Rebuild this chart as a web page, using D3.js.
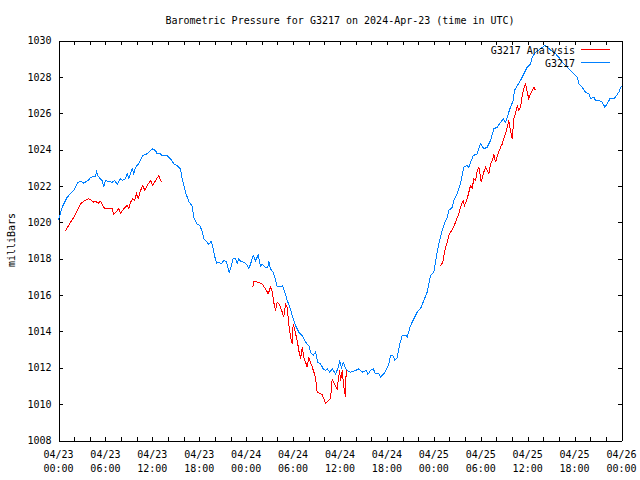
<!DOCTYPE html>
<html><head><meta charset="utf-8">
<script src="https://cdn.jsdelivr.net/npm/d3@7"></script>
<style>
body{margin:0;background:#fff}
svg text{font-family:"DejaVu Sans Mono","Liberation Mono",monospace;font-size:10px;fill:#000}
</style>
</head><body>
<svg id="chart" width="640" height="480"></svg>
<script>
const chartTitle = "Barometric Pressure for G3217 on 2024-Apr-23 (time in UTC)";
const yAxisLabel = "milliBars";
const startTime = "2024-04-23T00:00:00Z";
const endTime = "2024-04-26T00:00:00Z";
const yTickValues = [1008,1010,1012,1014,1016,1018,1020,1022,1024,1026,1028,1030];
const seriesNames = ["G3217 Analysis", "G3217"];

// G3217 observed (hours since start, mb)
const stationHours = [0,0.04,0.47,1.11,1.53,1.96,2.39,2.81,3.24,3.88,4.09,4.73,4.86,5.08,5.59,5.79,6.01,6.87,7.16,7.51,7.93,8.18,8.57,8.79,8.99,9.43,9.63,9.85,10.27,10.78,11.34,11.77,11.98,12.41,12.62,13.04,13.26,13.90,14.32,14.75,15.18,15.60,15.82,16.24,16.66,17.10,17.30,17.74,18.03,18.38,18.58,19.22,19.53,19.73,19.95,20.21,20.50,20.81,21.14,21.45,21.65,21.83,22.09,22.34,22.64,22.85,23.06,23.28,23.70,24.04,24.34,24.55,24.90,25.19,25.54,25.83,26.05,26.47,26.77,26.90,27.11,27.46,27.75,27.97,28.39,28.65,28.81,29.25,29.67,29.89,30.31,30.73,31.17,31.59,32.01,32.23,32.57,32.87,33.16,33.51,33.85,34.15,34.36,34.70,35.00,35.43,35.72,35.98,36.19,36.41,36.83,37.34,37.98,38.41,38.84,39.39,39.56,39.90,40.25,40.54,40.96,41.18,41.69,42.04,42.24,42.46,42.75,43.01,43.32,43.52,43.65,43.96,44.38,44.60,45.02,45.44,45.87,46.39,46.72,47.15,47.36,47.57,48.00,48.21,48.43,48.64,48.85,49.07,49.40,49.71,49.91,50.35,50.55,50.99,51.41,51.83,52.27,52.47,53.03,53.55,53.97,54.39,54.82,55.25,55.67,56.10,56.53,56.87,57.17,57.38,57.72,58.15,58.32,58.67,59.09,59.51,59.94,60.37,60.58,61.00,61.64,62.19,62.58,63.01,63.56,63.98,64.42,64.84,65.48,65.90,66.34,66.54,66.98,67.40,67.82,68.04,68.47,68.68,69.11,69.53,69.87,70.17,70.51,71.02,71.37,71.66,72.0];
const stationValues = [1020.1,1020.2,1020.83,1021.38,1021.57,1021.75,1022.15,1022.26,1022.15,1022.34,1022.48,1022.52,1022.81,1022.52,1022.3,1021.93,1022.3,1022.2,1022.3,1022.1,1022.4,1022.3,1022.4,1022.67,1022.4,1022.94,1022.67,1023.03,1023.22,1023.67,1023.77,1023.95,1024.04,1023.95,1023.77,1023.77,1023.67,1023.67,1023.49,1023.22,1023.12,1022.94,1022.4,1021.65,1021.15,1020.88,1020.28,1019.9,1019.85,1019.5,1019.09,1018.8,1018.95,1018.63,1018.17,1017.75,1017.8,1017.72,1017.9,1017.85,1017.53,1017.26,1017.57,1018.0,1018.0,1017.75,1018.0,1017.85,1017.8,1017.7,1017.44,1017.7,1018.17,1017.9,1018.2,1017.57,1017.7,1017.53,1017.53,1017.84,1017.44,1017.26,1016.85,1016.47,1016.49,1016.5,1016.34,1015.7,1015.24,1014.87,1014.32,1013.96,1013.77,1013.41,1013.22,1012.86,1012.68,1012.86,1012.31,1012.22,1011.94,1011.85,1011.94,1011.76,1011.94,1011.67,1011.94,1012.36,1012.0,1012.3,1011.85,1011.76,1011.85,1011.94,1011.76,1011.85,1011.63,1011.85,1011.94,1011.67,1011.67,1011.48,1011.7,1012.0,1012.22,1012.67,1012.7,1012.4,1012.55,1013.04,1013.32,1013.77,1013.8,1013.7,1014.32,1014.69,1015.06,1015.33,1015.7,1016.16,1016.62,1017.07,1017.26,1017.81,1018.36,1018.82,1019.18,1019.55,1020.0,1020.28,1020.65,1020.83,1021.2,1021.6,1022.12,1023.03,1023.12,1023.03,1023.67,1023.77,1024.32,1024.04,1024.13,1024.5,1025.14,1025.23,1025.5,1025.69,1025.5,1025.78,1026.24,1026.7,1027.25,1027.52,1027.8,1028.17,1028.53,1028.72,1029.08,1029.36,1029.54,1029.72,1029.6,1029.45,1029.27,1029.08,1028.81,1028.63,1028.35,1028.17,1027.99,1027.62,1027.43,1027.16,1027.07,1026.79,1026.88,1026.7,1026.7,1026.61,1026.33,1026.52,1026.79,1026.79,1026.98,1027.16,1027.52];

// G3217 Analysis, three runs
const analysisHours1 = [0.81,1.11,1.53,1.96,2.39,2.81,3.24,3.88,4.22,4.51,4.73,5.08,5.37,5.79,6.01,6.87,7.07,7.51,7.71,7.93,8.35,8.79,8.99,9.21,9.50,9.72,9.98,10.19,10.49,10.78,11.04,11.34,11.77,12.06,12.41,12.83,13.17];
const analysisValues1 = [1019.49,1019.7,1020.0,1020.28,1020.65,1021.02,1021.16,1021.3,1021.2,1021.11,1021.15,1021.05,1021.16,1020.83,1020.74,1020.74,1020.43,1020.65,1020.74,1020.5,1020.74,1020.93,1020.74,1021.11,1021.3,1021.2,1021.57,1021.3,1021.75,1022.02,1021.75,1022.02,1022.3,1022.02,1022.3,1022.57,1022.2];
const analysisHours2 = [24.85,24.98,25.58,26.05,26.47,26.82,27.11,27.33,27.53,27.75,27.97,28.30,28.61,28.81,29.03,29.25,29.45,29.67,29.89,30.01,30.22,30.53,30.73,30.95,31.17,31.37,31.81,32.01,32.23,32.45,32.87,33.08,33.72,33.93,34.15,34.44,34.79,35.00,35.29,35.64,35.94,36.07,36.28,36.49,36.70,36.79];
const analysisValues2 = [1016.43,1016.76,1016.7,1016.6,1016.34,1016.07,1016.43,1016.2,1015.6,1015.15,1015.6,1015.45,1015.06,1014.78,1015.51,1015.3,1014.42,1013.68,1013.32,1014.42,1014.05,1013.5,1012.95,1012.49,1013.13,1012.58,1012.04,1012.55,1012.3,1012.04,1011.48,1010.66,1010.53,1010.3,1010.02,1010.15,1010.3,1011.4,1011.1,1010.85,1011.85,1011.3,1011.85,1010.93,1010.38,1011.85];
const analysisHours3 = [48.85,49.15,49.40,49.71,49.91,50.13,50.39,50.77,51.19,51.41,51.75,51.92,52.27,52.69,52.91,53.12,53.34,53.55,53.76,54.07,54.39,54.61,55.03,55.25,55.55,55.67,55.89,56.10,56.30,56.53,56.74,56.94,57.17,57.38,57.59,57.80,58.02,58.23,58.44,58.67,58.87,59.09,59.30,59.51,59.73,59.94,60.15,60.37,60.58,60.79,61.00];
const analysisValues3 = [1017.62,1017.8,1018.45,1018.9,1019.27,1019.46,1019.6,1020.0,1020.47,1020.83,1021.2,1020.93,1021.3,1022.02,1021.9,1022.39,1022.3,1022.85,1023.03,1022.2,1022.76,1023.03,1022.67,1023.22,1023.49,1023.77,1023.3,1023.6,1023.86,1024.13,1024.3,1024.59,1024.86,1025.23,1025.6,1025.05,1024.59,1025.69,1025.96,1026.42,1026.15,1026.33,1026.98,1027.34,1027.65,1027.16,1026.79,1027.07,1027.25,1027.43,1027.25];

const colors = {analysis: "#ff0000", station: "#0080ff"};

const svg = d3.select("#chart");
const L = 58.5, R = 621.5, T = 40.5, B = 440.5;
const t0 = new Date(startTime), t1 = new Date(endTime);
const x = d3.scaleUtc().domain([t0, t1]).range([L, R]);
const y = d3.scaleLinear().domain([1008, 1030]).range([B, T]);
const toDate = h => new Date(t0.getTime() + h * 3600000);

const minorTicks = d3.utcHour.every(2).range(t0, new Date(t1.getTime() + 1));
const majorTicks = d3.utcHour.every(6).range(t0, new Date(t1.getTime() + 1));

// axes (ticks inward on all four sides)
svg.append("g").attr("transform", `translate(0,${B})`)
  .call(d3.axisBottom(x).tickValues(minorTicks).tickSize(-4).tickSizeOuter(0).tickFormat(""));
svg.append("g").attr("transform", `translate(0,${T})`)
  .call(d3.axisTop(x).tickValues(minorTicks).tickSize(-4).tickSizeOuter(0).tickFormat(""));
const gy = svg.append("g").attr("transform", `translate(${L},0)`)
  .call(d3.axisLeft(y).tickValues(yTickValues).tickSize(-4).tickSizeOuter(0).tickPadding(7).tickFormat(d3.format("d")));
svg.append("g").attr("transform", `translate(${R},0)`)
  .call(d3.axisRight(y).tickValues(yTickValues).tickSize(-4).tickSizeOuter(0).tickFormat(""));
svg.selectAll(".domain").attr("stroke", "#000").attr("shape-rendering", "crispEdges");
svg.selectAll(".tick line").attr("stroke", "#000").attr("shape-rendering", "crispEdges");
gy.selectAll("text").attr("font-size", null).attr("font-family", null);

// x labels, two lines
const fmtD = d3.utcFormat("%m/%d"), fmtT = d3.utcFormat("%H:%M");
const xl = svg.append("g");
majorTicks.forEach(d => {
  const t = xl.append("text").attr("text-anchor", "middle").attr("x", x(d)).attr("y", B + 17);
  t.append("tspan").attr("x", x(d)).text(fmtD(d));
  t.append("tspan").attr("x", x(d)).attr("dy", 14).text(fmtT(d));
});

// title & y label
svg.append("text").attr("x", (L + R) / 2).attr("y", 24).attr("text-anchor", "middle").text(chartTitle);
svg.append("text").attr("transform", "translate(15,240) rotate(-90)").attr("text-anchor", "middle").text(yAxisLabel);

// lines
const line = d3.line().x(d => x(d[0])).y(d => y(d[1]));
const zipData = (hs, vs) => hs.map((h, i) => [toDate(h), vs[i]]);
const plot = svg.append("g");
plot.append("path").datum(zipData(stationHours, stationValues))
  .attr("d", line).attr("fill", "none").attr("stroke", colors.station).attr("stroke-width", 1)
  .attr("shape-rendering", "crispEdges");
[[analysisHours1, analysisValues1], [analysisHours2, analysisValues2], [analysisHours3, analysisValues3]].forEach(([hs, vs]) => {
  plot.append("path").datum(zipData(hs, vs))
    .attr("d", line).attr("fill", "none").attr("stroke", colors.analysis).attr("stroke-width", 1)
    .attr("shape-rendering", "crispEdges");
});

// legend
const leg = svg.append("g");
[[seriesNames[0], colors.analysis, 49.5], [seriesNames[1], colors.station, 62.5]].forEach(([name, c, ly]) => {
  leg.append("text").attr("x", 575).attr("y", ly + 4).attr("text-anchor", "end").text(name);
  leg.append("line").attr("x1", 581).attr("x2", 610).attr("y1", ly).attr("y2", ly)
    .attr("stroke", c).attr("stroke-width", 1).attr("shape-rendering", "crispEdges");
});
</script>
</body></html>
